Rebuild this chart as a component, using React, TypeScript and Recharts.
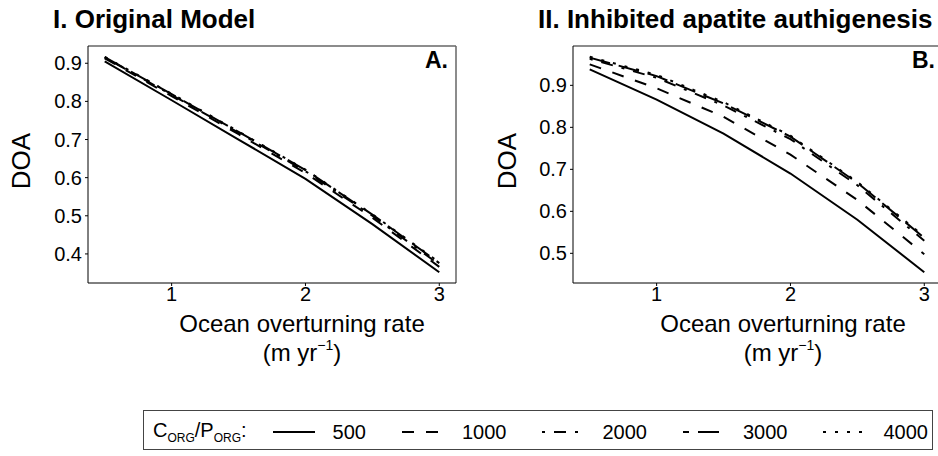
import { LineChart, Line, XAxis, YAxis, ReferenceLine } from 'recharts';

// overturning rate (m/yr) and C/P ratios
const overturningRate = [0.5, 1, 1.5, 2, 2.5, 3];
const ratios = ['500', '1000', '2000', '3000', '4000'];

// I. original model
const original500 = [0.905, 0.803, 0.7, 0.597, 0.478, 0.352];
const original1000 = [0.913, 0.814, 0.714, 0.612, 0.495, 0.366];
const original2000 = [0.915, 0.817, 0.718, 0.617, 0.5, 0.372];
const original3000 = [0.916, 0.819, 0.72, 0.62, 0.503, 0.376];
const original4000 = [0.917, 0.82, 0.721, 0.621, 0.504, 0.378];

// II. inhibited apatite authigenesis
const inhibited500 = [0.938, 0.866, 0.785, 0.69, 0.58, 0.455];
const inhibited1000 = [0.95, 0.893, 0.825, 0.735, 0.627, 0.498];
const inhibited2000 = [0.963, 0.918, 0.852, 0.772, 0.662, 0.53];
const inhibited3000 = [0.966, 0.922, 0.857, 0.778, 0.668, 0.537];
const inhibited4000 = [0.968, 0.925, 0.86, 0.78, 0.67, 0.54];

const xTicks = [1, 2, 3];
const yTicksA = [0.4, 0.5, 0.6, 0.7, 0.8, 0.9];
const yTicksB = [0.5, 0.6, 0.7, 0.8, 0.9];

const dashes = ['', '12 12', '3 9 12 9', '21 9', '3 9'];
const legendOffsets = [0, 0, 0, 15, 0];
const font = '"Liberation Sans", Arial, sans-serif';

function buildRows(series: number[][]) {
  return overturningRate.map((x, i) => {
    const row: Record<string, number> = { x };
    series.forEach((s, k) => {
      row[`r${ratios[k]}`] = s[i];
    });
    return row;
  });
}

function paddedDomain(values: number[]): [number, number] {
  const lo = Math.min(...values);
  const hi = Math.max(...values);
  const pad = (hi - lo) * 0.05;
  return [lo - pad, hi + pad];
}

const seriesA = [original500, original1000, original2000, original3000, original4000];
const seriesB = [inhibited500, inhibited1000, inhibited2000, inhibited3000, inhibited4000];
const xDomain = paddedDomain(overturningRate);

interface PanelProps {
  series: number[][];
  yTicks: number[];
  left: number;
  width: number;
  yAxisWidth: number;
  rightMargin: number;
}

function Panel({ series, yTicks, left, width, yAxisWidth, rightMargin }: PanelProps) {
  const data = buildRows(series);
  const yDomain = paddedDomain(series.flat());
  return (
    <div style={{ position: 'absolute', left, top: 0 }}>
      <LineChart width={width} height={310} data={data} margin={{ top: 46, right: rightMargin, left: 0, bottom: 0 }}>
        <XAxis
          dataKey="x"
          type="number"
          domain={xDomain}
          ticks={xTicks}
          allowDataOverflow
          height={27}
          tickSize={3}
          tickMargin={1}
          stroke="#000"
          tick={{ fill: '#000', fontSize: 20, fontFamily: font }}
        />
        <YAxis
          type="number"
          domain={yDomain}
          ticks={yTicks}
          allowDataOverflow
          width={yAxisWidth}
          tickSize={3}
          tickMargin={3}
          stroke="#000"
          tickFormatter={(v: number) => v.toFixed(1)}
          tick={{ fill: '#000', fontSize: 20, fontFamily: font }}
        />
        {/* panel border: top and right */}
        <ReferenceLine y={yDomain[1]} stroke="#666" strokeWidth={1.5} ifOverflow="visible" />
        <ReferenceLine x={xDomain[1]} stroke="#666" strokeWidth={1.5} ifOverflow="visible" />
        {ratios.map((r, k) => (
          <Line
            key={r}
            type="linear"
            dataKey={`r${r}`}
            stroke="#000"
            strokeWidth={2}
            strokeDasharray={dashes[k] || undefined}
            dot={false}
            isAnimationActive={false}
          />
        ))}
      </LineChart>
    </div>
  );
}

function AxisTitle({ center }: { center: number }) {
  return (
    <div style={{ position: 'absolute', left: center - 200, top: 309, width: 400, textAlign: 'center', fontSize: 24, lineHeight: '29px' }}>
      Ocean overturning rate
      <br />
      (m yr<sup style={{ fontSize: 14, verticalAlign: 'top', lineHeight: '14px' }}>−1</sup>)
    </div>
  );
}

function YTitle({ center }: { center: number }) {
  return (
    <div style={{ position: 'absolute', left: center - 40, top: 161 - 15, width: 80, height: 30, lineHeight: '30px', textAlign: 'center', fontSize: 26, transform: 'rotate(-90deg)' }}>
      DOA
    </div>
  );
}

function LegendKey({ dash, offset }: { dash: string; offset: number }) {
  return (
    <svg width={42} height={10} style={{ display: 'block' }}>
      <line x1={0} y1={5} x2={42} y2={5} stroke="#000" strokeWidth={2} strokeDasharray={dash || undefined} strokeDashoffset={offset} />
    </svg>
  );
}

export default function App() {
  const sub = { fontSize: 12, verticalAlign: 'sub' as const };
  return (
    <div style={{ position: 'absolute', left: 0, top: 0, width: 938, height: 456, overflow: 'hidden', background: '#fff', fontFamily: font, color: '#000' }}>
      <Panel series={seriesA} yTicks={yTicksA} left={0} width={470} yAxisWidth={88} rightMargin={14} />
      <Panel series={seriesB} yTicks={yTicksB} left={470} width={471} yAxisWidth={103} rightMargin={0} />

      <div style={{ position: 'absolute', left: 53, top: 6, fontSize: 26, fontWeight: 'bold', lineHeight: 1, whiteSpace: 'nowrap' }}>I. Original Model</div>
      <div style={{ position: 'absolute', left: 538, top: 6, fontSize: 26, fontWeight: 'bold', lineHeight: 1, whiteSpace: 'nowrap' }}>II. Inhibited apatite authigenesis</div>
      <div style={{ position: 'absolute', right: 938 - 448, top: 49, fontSize: 23, fontWeight: 'bold', lineHeight: 1 }}>A.</div>
      <div style={{ position: 'absolute', right: 938 - 935, top: 49, fontSize: 23, fontWeight: 'bold', lineHeight: 1 }}>B.</div>

      <YTitle center={21} />
      <YTitle center={507} />
      <AxisTitle center={302} />
      <AxisTitle center={783} />

      <div
        style={{
          position: 'absolute',
          left: 143,
          top: 410,
          width: 790,
          height: 40,
          border: '1px solid #444',
          display: 'flex',
          alignItems: 'center',
          paddingLeft: 9,
          paddingTop: 4,
          boxSizing: 'border-box',
          fontSize: 20,
          whiteSpace: 'nowrap',
        }}
      >
        <span>
          C<span style={sub}>ORG</span>/P<span style={sub}>ORG</span>:
        </span>
        {ratios.map((r, k) => (
          <div key={r} style={{ display: 'flex', alignItems: 'center', marginLeft: k === 0 ? 26 : 36 }}>
            <LegendKey dash={dashes[k]} offset={legendOffsets[k]} />
            <span style={{ marginLeft: 18 }}>{r}</span>
          </div>
        ))}
      </div>
    </div>
  );
}
